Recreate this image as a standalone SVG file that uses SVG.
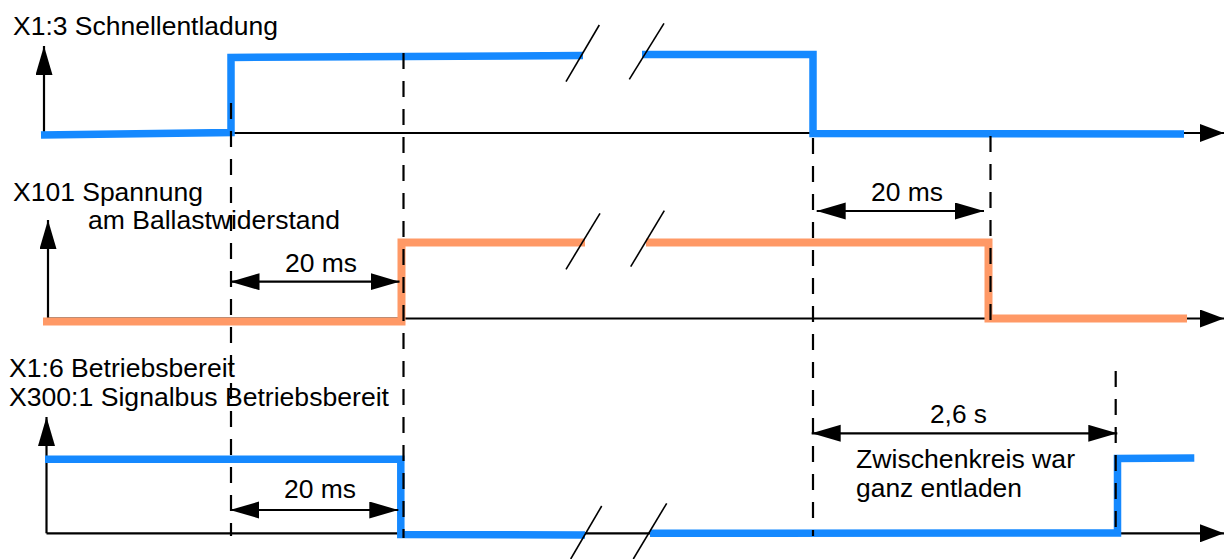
<svg xmlns="http://www.w3.org/2000/svg" width="1224" height="559" viewBox="0 0 1224 559">
<style>
  .t { font-family: "Liberation Sans", Arial, sans-serif; font-size: 25.5px; fill: #000; }
  .ax { stroke: #000; stroke-width: 2.2; fill: none; }
  .dash { stroke: #000; stroke-width: 2.2; fill: none; stroke-dasharray: 16 12; }
  .blue { stroke: #1589ff; stroke-width: 7.5; fill: none; stroke-linejoin: miter; }
  .orange { stroke: #ff9966; stroke-width: 8; fill: none; stroke-linejoin: miter; }
  .slash { stroke: #000; stroke-width: 1.6; fill: none; }
  .dim { stroke: #000; stroke-width: 2.2; fill: none; marker-start: url(#dh); marker-end: url(#dh); }
  .axv { marker-end: url(#av); }
  .axh { marker-end: url(#ahz); }
</style>
<defs>
  <marker id="dh" markerUnits="userSpaceOnUse" markerWidth="30" markerHeight="18" refX="29" refY="8.5" orient="auto-start-reverse">
    <path d="M0,0 L29,8.5 L0,17 z" fill="#000"/>
  </marker>
  <marker id="av" markerUnits="userSpaceOnUse" markerWidth="30" markerHeight="18" refX="29" refY="8.5" orient="auto">
    <path d="M0,0 L29,8.5 L0,17 z" fill="#000"/>
  </marker>
  <marker id="ahz" markerUnits="userSpaceOnUse" markerWidth="25" markerHeight="18" refX="24" refY="9" orient="auto">
    <path d="M0,0 L24,9 L0,18 z" fill="#000"/>
  </marker>
</defs>
<rect width="1224" height="559" fill="#fff"/>

<g id="axes">
  <line class="ax axh" x1="44" y1="133" x2="1224" y2="133"/>
  <line class="ax axv" x1="44" y1="133" x2="44" y2="46"/>
  <line class="ax axh" x1="48" y1="318.5" x2="1224" y2="318.5"/>
  <line class="ax axv" x1="48" y1="318.5" x2="48" y2="220"/>
  <line class="ax axh" x1="46.5" y1="533.3" x2="1224" y2="533.3"/>
  <line class="ax axv" x1="46.5" y1="533.3" x2="46.5" y2="417"/>
</g>

<g id="signal-schnellentladung">
  <path class="blue" d="M41,135 L231,132.5 L231,57.5 L583,55.5"/>
  <path class="blue" d="M642,54.5 L813,54.5 L813,133.5 L1184,134"/>
  <line class="slash" x1="566" y1="81.7" x2="599.3" y2="25"/>
  <line class="slash" x1="629.3" y1="79.3" x2="664" y2="23.3"/>
</g>

<g id="signal-spannung">
  <path class="orange" d="M43,321.5 L401.5,321.5 L401.5,242.5 L585,242.5"/>
  <path class="orange" d="M646,242.5 L988.5,242.5 L988.5,318.5 L1187,318.5"/>
  <line class="slash" x1="566" y1="269.3" x2="600" y2="213.3"/>
  <line class="slash" x1="630.7" y1="266.7" x2="664.3" y2="210.7"/>
</g>

<g id="signal-betriebsbereit">
  <path class="blue" d="M45,459.3 L400.8,459.3 L400.8,534.5 L585,535"/>
  <path class="blue" d="M650,533.3 L1117.5,533 L1117.5,458.5 L1194.3,458"/>
  <line class="slash" x1="570.7" y1="559" x2="601.7" y2="506"/>
  <line class="slash" x1="633.3" y1="559" x2="666.7" y2="503.3"/>
</g>

<g id="connectors">
  <line class="dash" x1="231" y1="103" x2="231" y2="536"/>
  <line class="dash" x1="403.5" y1="53" x2="403.5" y2="538"/>
  <line class="dash" x1="813" y1="138" x2="813" y2="536"/>
  <line class="dash" x1="990.5" y1="136" x2="990.5" y2="322"/>
  <line class="dash" x1="1115.7" y1="371" x2="1115.7" y2="530"/>
  <line class="dim" x1="230.5" y1="281.7" x2="399.5" y2="281.7"/>
  <line class="dim" x1="816.7" y1="211" x2="984" y2="211"/>
  <line class="dim" x1="230" y1="510" x2="398.3" y2="510"/>
  <line class="dim" x1="811.7" y1="433.3" x2="1117.3" y2="433.3"/>
</g>

<g id="labels">
  <text class="t" x="13" y="35" textLength="265" lengthAdjust="spacingAndGlyphs">X1:3 Schnellentladung</text>
  <text class="t" x="13" y="200.7" textLength="190" lengthAdjust="spacingAndGlyphs">X101 Spannung</text>
  <text class="t" x="88" y="229.3" textLength="252" lengthAdjust="spacingAndGlyphs">am Ballastwiderstand</text>
  <text class="t" x="285" y="271.7" textLength="72" lengthAdjust="spacingAndGlyphs">20 ms</text>
  <text class="t" x="871" y="201" textLength="72" lengthAdjust="spacingAndGlyphs">20 ms</text>
  <text class="t" x="9" y="376.7" textLength="226" lengthAdjust="spacingAndGlyphs">X1:6 Betriebsbereit</text>
  <text class="t" x="9" y="406" textLength="380" lengthAdjust="spacingAndGlyphs">X300:1 Signalbus Betriebsbereit</text>
  <text class="t" x="284" y="498" textLength="72" lengthAdjust="spacingAndGlyphs">20 ms</text>
  <text class="t" x="930" y="423.3" textLength="57" lengthAdjust="spacingAndGlyphs">2,6 s</text>
  <text class="t" x="856" y="468.3" textLength="219" lengthAdjust="spacingAndGlyphs">Zwischenkreis war</text>
  <text class="t" x="856" y="497.3" textLength="166" lengthAdjust="spacingAndGlyphs">ganz entladen</text>
</g>
</svg>
